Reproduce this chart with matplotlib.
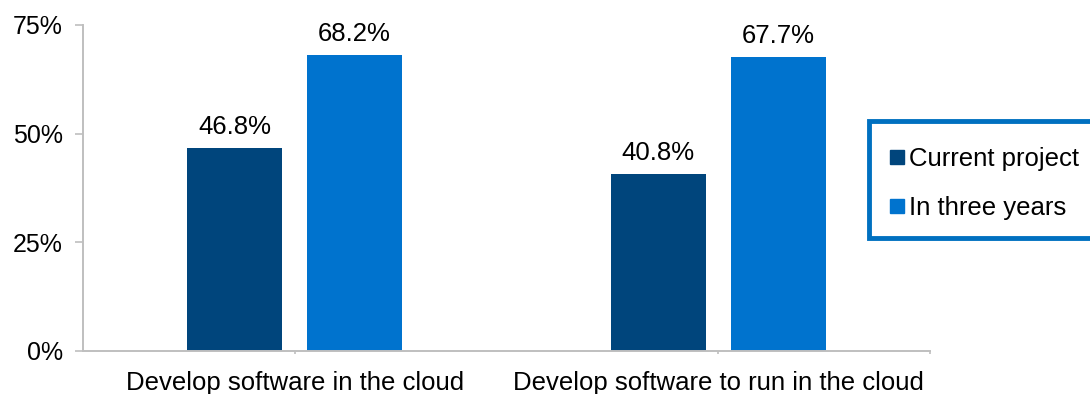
import matplotlib
matplotlib.use("Agg")
import matplotlib.pyplot as plt
from matplotlib.lines import Line2D
from matplotlib.patches import Rectangle
from matplotlib.ticker import FixedLocator, PercentFormatter

plt.rcParams['font.family'] = ['Liberation Sans', 'DejaVu Sans']

categories = ["Develop software in the cloud", "Develop software to run in the cloud"]
series_names = ["Current project", "In three years"]
current_project = [46.8, 40.8]
in_three_years = [68.2, 67.7]
y_ticks = [0, 25, 50, 75]

colors = ["#00457C", "#0073CE"]
grey = "#BFBFBF"

fig = plt.figure(figsize=(10.9, 3.94), dpi=100)
ax = fig.add_axes([83 / 1090, 1 - 351 / 394, (930 - 83) / 1090, (351 - 25) / 394])

x = list(range(len(categories)))
width = 0.224
offset = 0.1415
for vals, dx, col in [(current_project, -offset, colors[0]), (in_three_years, offset, colors[1])]:
    pos = [xi + dx for xi in x]
    ax.bar(pos, vals, width=width, color=col, zorder=2)
    for p, v in zip(pos, vals):
        ax.annotate(f"{v:.1f}%", (p, v), xytext=(0, 10), textcoords="offset points",
                    ha="center", va="baseline", fontsize=18.5, color="#000000")

ax.set_xlim(-0.5, 1.5)
ax.set_ylim(0, 75)
ax.yaxis.set_major_locator(FixedLocator(y_ticks))
ax.yaxis.set_major_formatter(PercentFormatter(decimals=0))
ax.tick_params(axis="y", direction="out", length=5.5, width=1.2, color=grey,
               labelsize=18, pad=9)

ax.set_xticks(x)
ax.set_xticklabels(categories)
ax.xaxis.set_minor_locator(FixedLocator([1.5]))
ax.tick_params(axis="x", which="both", direction="out", length=2.5, width=1.2, color=grey,
               labelsize=18.5, pad=12)

for side in ["top", "right"]:
    ax.spines[side].set_visible(False)
for side in ["left", "bottom"]:
    ax.spines[side].set_color(grey)
    ax.spines[side].set_linewidth(1.4)

# Legend with a bold blue frame running off the right edge
frame = Rectangle((869 / 1090, 1 - 238 / 394), 260 / 1090, 117 / 394,
                  transform=fig.transFigure, facecolor="white", edgecolor="#0070C0",
                  linewidth=3.5, zorder=1)
fig.patches.append(frame)
handles = [Line2D([], [], linestyle="none", marker="s", markersize=9.5,
                  markerfacecolor=c, markeredgecolor=c) for c in colors]
leg = fig.legend(handles, series_names, loc="upper left",
                 bbox_to_anchor=(890 / 1090, 1 - 147 / 394), frameon=False,
                 fontsize=18.5, handlelength=0.55, handletextpad=0.2,
                 labelspacing=0.97, borderpad=0, borderaxespad=0)

fig.savefig("out.png", dpi=100)
